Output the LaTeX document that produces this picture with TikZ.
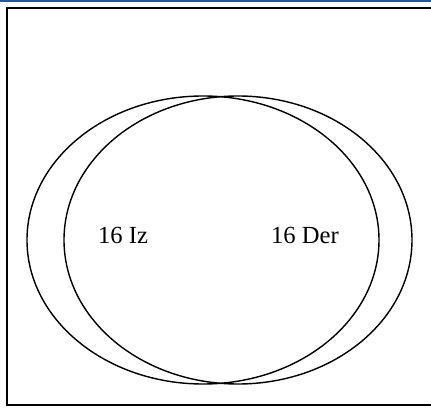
\documentclass[tikz,border=0pt]{standalone}
\usepackage{fontspec}
\setmainfont{Liberation Serif}
\usepackage{xcolor}
\usepackage{tikz}
\usetikzlibrary{positioning}

\definecolor{topblue}{RGB}{47,84,150}

\begin{document}
\begin{tikzpicture}[
  frame/.style={draw, line width=1.1pt},
  setline/.style={draw, line width=0.8pt},
  setlabel/.style={font=\fontsize{14}{16}\selectfont, inner sep=0pt}
]
\useasboundingbox (0,0) rectangle (8.62,8.16);
\draw[topblue, line width=1.2pt] (0,8.15) -- (8.62,8.15);
\draw[frame] (8.8,8.0) -- (0.14,8.0) -- (0.14,0.06) -- (8.8,0.06);
\draw[setline] (4.06,3.36) ellipse [x radius=3.52, y radius=2.88];
\draw[setline] (4.76,3.36) ellipse [x radius=3.48, y radius=2.88];
\node[setlabel] (iz) at (2.46,3.46) {16 Iz};
\node[setlabel] (der) at (6.10,3.46) {16 Der};
\end{tikzpicture}
\end{document}
